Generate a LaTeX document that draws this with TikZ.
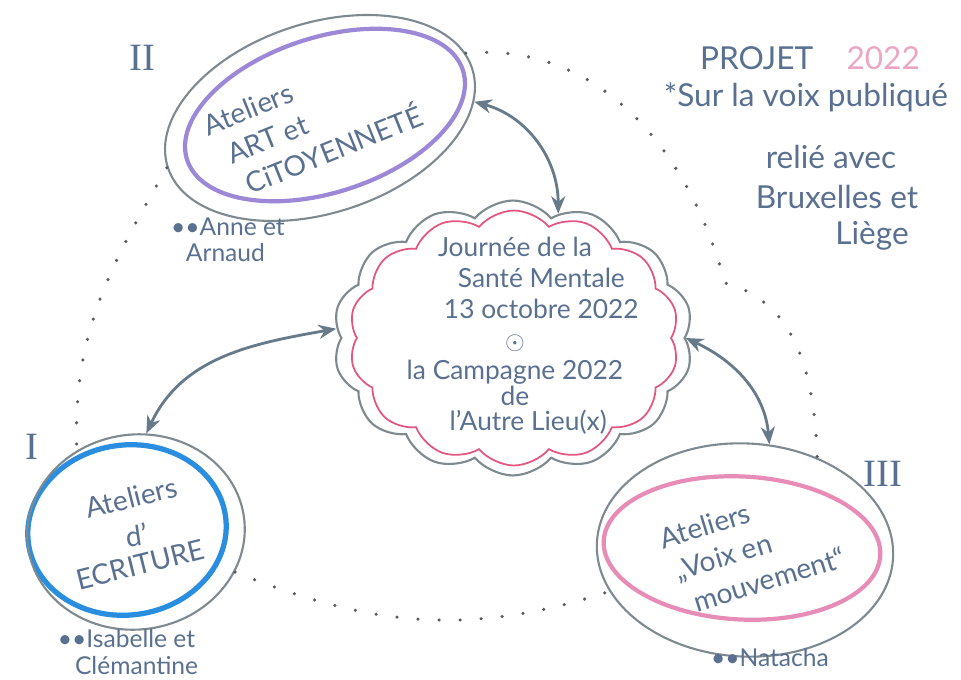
\documentclass[tikz,border=0pt]{standalone}
\usepackage{fontspec}
\setmainfont{Lato}
\newfontfamily\romanfont{Liberation Serif}
\usetikzlibrary{shapes.geometric,shapes.symbols,arrows.meta}

\definecolor{txtblue}{HTML}{5A7090}
\definecolor{rimgray}{HTML}{7E8A90}
\definecolor{arrgray}{HTML}{667A8A}
\definecolor{dotgray}{HTML}{5C5C5C}
\definecolor{artpurple}{HTML}{9C88D6}
\definecolor{ecrblue}{HTML}{2A8EE0}
\definecolor{voixpink}{HTML}{E68CB6}
\definecolor{cloudpink}{HTML}{E2567F}
\definecolor{yearpink}{HTML}{EBA6C4}

\tikzset{
  every node/.style={text=txtblue, font=\fontsize{16}{19}\selectfont},
  rim/.style={ellipse, draw=rimgray, line width=1.2pt, inner sep=0pt, align=center},
  inrim/.style={ellipse, line width=2.4pt, inner sep=0pt},
  puff/.style={cloud, cloud puffs=14, cloud puff arc=100, cloud ignores aspect, inner sep=0pt},
  who/.style={font=\fontsize{14}{15}\selectfont, align=left},
  roman/.style={font=\romanfont\fontsize{22}{24}\selectfont},
  proj/.style={font=\fontsize{18}{21}\selectfont},
  arr/.style={{Stealth[length=10pt,width=8pt]}-{Stealth[length=10pt,width=8pt]}, draw=arrgray, line width=1.6pt},
  dots/.style={draw=dotgray, line width=2pt, line cap=round, dash pattern=on 0pt off 12pt}
}

\begin{document}
\begin{tikzpicture}[x=0.02cm, y=-0.02cm]
  \useasboundingbox (0,0) rectangle (961,680);

  % the three ateliers
  \node[inrim, draw=artpurple, minimum width=5.8cm, minimum height=3.1cm, rotate=18] (artin) at (325,115) {};
  \node[rim, minimum width=6.4cm, minimum height=3.8cm, rotate=18] (art) at (320,118)
    {\rotatebox{4}{\parbox{4.4cm}{Ateliers\\[1pt] \hspace*{0.4em}ART et\\[1pt] \hspace*{0.6em}CiTOYENNETÉ}}};

  \node[inrim, draw=ecrblue, line width=3pt, minimum width=3.98cm, minimum height=3.4cm, rotate=8] (ecrin) at (127,530) {};
  \node[rim, minimum width=4.36cm, minimum height=3.9cm, rotate=8] (ecr) at (136,532)
    {\rotatebox{6}{Ateliers}\\ d’\\ \rotatebox{6}{ECRITURE}};

  \node[inrim, draw=voixpink, minimum width=5.54cm, minimum height=2.86cm, rotate=-3] (voixin) at (742,548) {};
  \node[rim, minimum width=5.88cm, minimum height=3.56cm, rotate=-3] (voix) at (745,550)
    {\rotatebox{20}{\parbox{3.8cm}{\hspace*{0.6em}Ateliers\\[1pt] \hspace*{0.8em}„Voix en\\[1pt] \hspace*{1.1em}mouvement“}}};

  % journee
  \node[puff, draw=cloudpink, line width=1pt, minimum width=6.6cm, minimum height=5.1cm] (jsmin) at (514,338) {};
  \node[puff, draw=rimgray, line width=1.2pt, minimum width=7.2cm, minimum height=5.5cm] (jsm) at (513,338) {};
  \node[align=center, font=\fontsize{15}{17.5}\selectfont] (jsmtxt) at (515,336)
    {Journée de la\\ \hspace*{2em}Santé Mentale\\ \hspace*{2em}13 octobre 2022\\
     {\Large$\odot$}\\ la Campagne 2022\\[-3pt] de\\[-3pt] \hspace*{1em}l’Autre Lieu(x)};

  \node[roman] (n2) at (142,58) {II};
  \node[roman] (n1) at (32,447) {I};
  \node[roman] (n3) at (883,474) {III};

  \node[who] (anne) at (228,240) {••Anne et\\ \hspace*{0.6em}Arnaud};
  \node[who] (isa) at (128,652) {••Isabelle et\\ \hspace*{0.7em}Clémantine};
  \node[who] (nat) at (770,658) {••Natacha};

  % projet
  \node[proj] (projet) at (810,58) {PROJET \hspace{0.8em}\textcolor{yearpink}{2022}};
  \node[proj] (voie) at (806,97) {*Sur la voix publiqué};
  \node[proj] (relie) at (831,157) {relié avec};
  \node[proj] (bxl) at (837,197) {Bruxelles et};
  \node[proj] (liege) at (872,236) {Liège};

  \draw[arr] (art.-12) to[out=-15, in=90] (jsm.70);
  \draw[arr] (ecr.76) to[out=65, in=190] (jsm.177);
  \draw[arr] (voix.80) to[out=95, in=-25] (jsm.0);

  \coordinate (turn) at (725,283);
  \draw[dots] (art.180) to[out=240, in=92] (ecr.118);
  \draw[dots] (ecr.-30) to[out=-22, in=198] (voix.200);
  \draw[dots] (art.6) to[out=5, in=105] (turn) to[out=-15, in=92] (voix.55);
\end{tikzpicture}
\end{document}
